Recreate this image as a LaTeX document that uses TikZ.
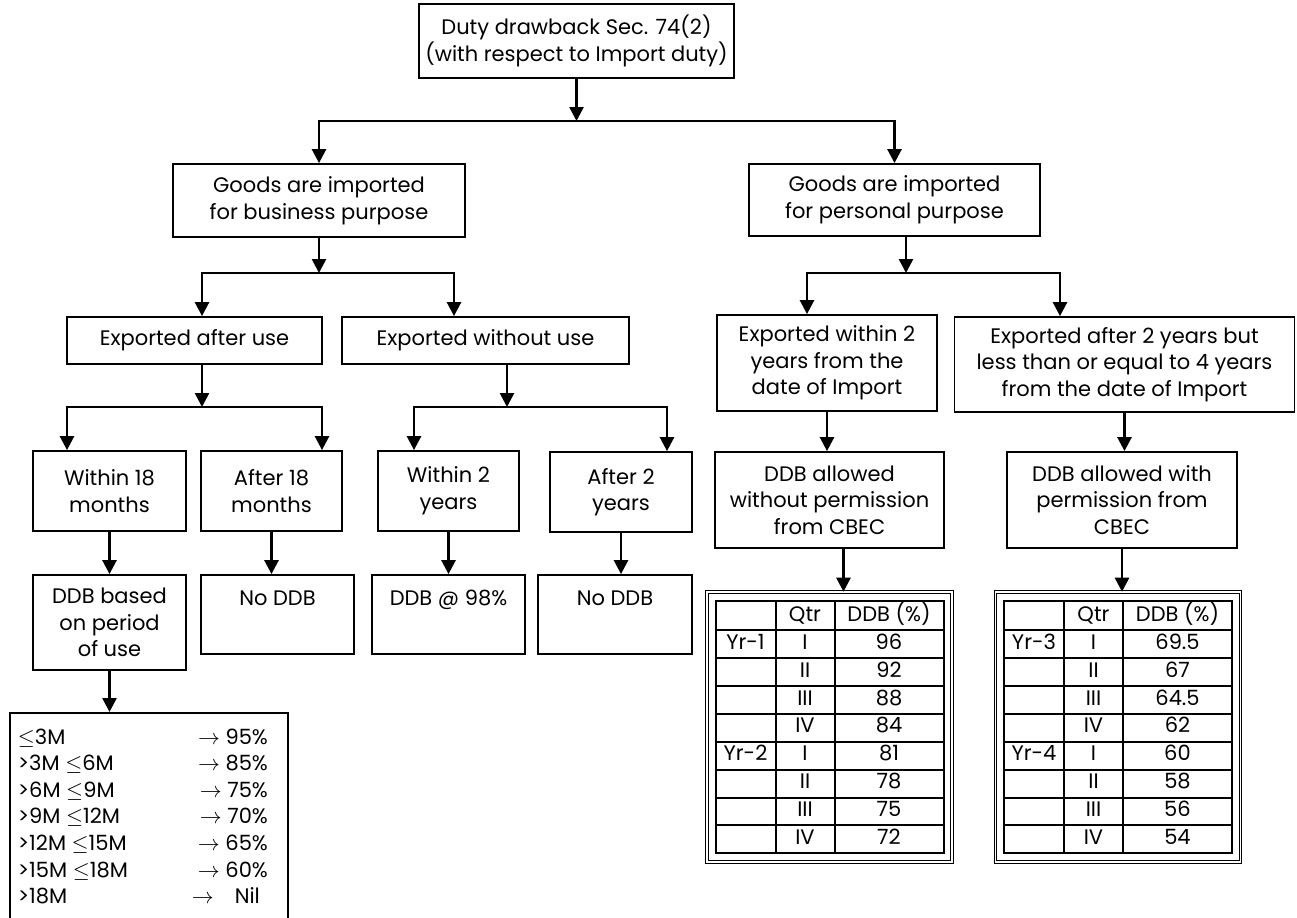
\documentclass[tikz,border=0pt]{standalone}
\usepackage{fontspec}
\setmainfont{Poppins}
\usepackage{array}
\usetikzlibrary{arrows.meta,positioning,calc}
\newcolumntype{C}[1]{>{\centering\arraybackslash}p{#1}}
\setlength{\tabcolsep}{0pt}
\setlength{\arrayrulewidth}{1pt}
\tikzset{
  stepbox/.style={
    draw,
    line width=0.9pt,
    align=center,
    inner sep=3pt
  },
  topbox/.style={stepbox, text height=12pt, text depth=21.5pt},
  listbox/.style={draw, line width=0.9pt, inner xsep=4pt, inner ysep=6.3pt},
  tablebox/.style={draw, double, double distance=0.8pt, line width=0.5pt, inner sep=3.75pt,
    font=\fontsize{10.5}{12.95}\selectfont},
  flow/.style={-{Triangle[width=7pt,length=7pt]}, line width=1.3pt}
}

\begin{document}
\begin{tikzpicture}[
  x=0.5pt, y=-0.5pt,
  every node/.style={font=\fontsize{10.5}{13.3}\selectfont}
]
\path[use as bounding box, fill=white] (0,0) rectangle (1297,917);

% root and first split
\node[stepbox, minimum width=156.5pt, minimum height=37pt] (duty) at (576.5,41) {Duty drawback Sec. 74(2)\\(with respect to Import duty)};
\node[stepbox, minimum width=146pt, minimum height=36.5pt] (business) at (319,200.5) {Goods are imported\\for business purpose};
\node[stepbox, minimum width=145.5pt, minimum height=36pt] (personal) at (894.5,200) {Goods are imported\\for personal purpose};

% business side
\node[stepbox, minimum width=127.5pt, minimum height=23.5pt] (afteruse) at (194.5,340.5) {Exported after use};
\node[stepbox, minimum width=143.5pt, minimum height=23.5pt] (withoutuse) at (485.5,340.5) {Exported without use};
\node[stepbox, minimum width=76.5pt, minimum height=40pt] (within18) at (109.5,491) {Within 18\\months};
\node[stepbox, minimum width=70.5pt, minimum height=40pt] (after18) at (271.5,491) {After 18\\months};
\node[stepbox, minimum width=70.5pt, minimum height=40pt] (within2y) at (448.5,491) {Within 2\\years};
\node[stepbox, minimum width=71pt, minimum height=40pt] (after2y) at (621,492) {After 2\\years};
\node[stepbox, minimum width=76.5pt, minimum height=47.5pt] (period) at (109.5,622.5) {DDB based\\on period\\of use};
\node[topbox, minimum width=76.5pt, minimum height=39.5pt] (noddbA) at (277.5,614.5) {No DDB};
\node[topbox, minimum width=76.5pt, minimum height=39.5pt] (ddb98) at (448.5,614.5) {DDB @ 98\%};
\node[topbox, minimum width=77pt, minimum height=39.5pt] (noddbB) at (615,614.5) {No DDB};
\node[listbox, anchor=north west] (cutoffs) at (9,712) {\begin{tabular*}{125pt}{@{}l@{\extracolsep{\fill}}r@{}}
$\le$3M & $\rightarrow$ 95\% \\
>3M $\le$6M & $\rightarrow$ 85\% \\
>6M $\le$9M & $\rightarrow$ 75\% \\
>9M $\le$12M & $\rightarrow$ 70\% \\
>12M $\le$15M & $\rightarrow$ 65\% \\
>15M $\le$18M & $\rightarrow$ 60\% \\
>18M & $\rightarrow$\quad Nil\hspace*{4pt} \\
\end{tabular*}\hspace*{6pt}};

% personal side
\node[stepbox, minimum width=110pt, minimum height=48pt] (within2) at (827,363) {Exported within 2\\years from the\\date of Import};
\node[stepbox, minimum width=170pt, minimum height=47.5pt] (upto4) at (1124.5,364.5) {Exported after 2 years but\\less than or equal to 4 years\\from the date of Import};
\node[stepbox, minimum width=114.5pt, minimum height=48pt] (nopermit) at (829.5,500) {DDB allowed\\without permission\\from CBEC};
\node[stepbox, minimum width=115pt, minimum height=48pt] (permit) at (1122,500) {DDB allowed with\\permission from\\CBEC};
\node[tablebox] (ratesA) at (829.5,727) {\begin{tabular}{|C{29pt}|C{28.5pt}|C{53.5pt}|}
\hline
 & Qtr & DDB (\%) \\ \hline
Yr-1 & I & 96 \\ \hline
 & II & 92 \\ \hline
 & III & 88 \\ \hline
 & IV & 84 \\ \hline
Yr-2 & I & 81 \\ \hline
 & II & 78 \\ \hline
 & III & 75 \\ \hline
 & IV & 72 \\ \hline
\end{tabular}};
\node[tablebox] (ratesB) at (1118,727) {\begin{tabular}{|C{29pt}|C{28.5pt}|C{53.5pt}|}
\hline
 & Qtr & DDB (\%) \\ \hline
Yr-3 & I & 69.5 \\ \hline
 & II & 67 \\ \hline
 & III & 64.5 \\ \hline
 & IV & 62 \\ \hline
Yr-4 & I & 60 \\ \hline
 & II & 58 \\ \hline
 & III & 56 \\ \hline
 & IV & 54 \\ \hline
\end{tabular}};

% forks
\coordinate (fork0) at (576.5,121);
\coordinate (fork1) at (319,273);
\coordinate (fork2) at (202,407);
\coordinate (fork3) at (507,407);
\coordinate (fork4) at (906,273);

\draw[flow] (duty) -- (fork0);
\draw[flow] (fork0) -| (business);
\draw[flow] (fork0) -| (personal);

\draw[flow] (business) -- (fork1);
\draw[flow] (fork1) -| ($(afteruse.north)+(7.5,0)$);
\draw[flow] (fork1) -| ($(withoutuse.north)+(-31.5,0)$);

\draw[flow] ($(afteruse.south)+(7.5,0)$) -- (fork2);
\draw[flow] (fork2) -| ($(within18.north)+(-42.5,0)$);
\draw[flow] (fork2) -| ($(after18.north)+(50.5,0)$);

\draw[flow] ($(withoutuse.south)+(21.5,0)$) -- (fork3);
\draw[flow] (fork3) -| ($(within2y.north)+(-34.5,0)$);
\draw[flow] (fork3) -| ($(after2y.north)+(46,0)$);

\draw[flow] ($(personal.south)+(11.5,0)$) -- (fork4);
\draw[flow] (fork4) -| ($(within2.north)+(-20,0)$);
\draw[flow] (fork4) -| ($(upto4.north)+(-64.5,0)$);

% straight drops
\draw[flow] (within18) -- (period);
\draw[flow] (period) -- (period |- cutoffs.north);
\draw[flow] (after18) -- (after18 |- noddbA.north);
\draw[flow] (within2y) -- (within2y |- ddb98.north);
\draw[flow] (after2y) -- (after2y |- noddbB.north);
\draw[flow] (within2) -- (within2 |- nopermit.north);
\draw[flow] (upto4) -- (upto4 |- permit.north);
\draw[flow] ($(nopermit.south)+(14,0)$) -- ($(nopermit.south |- ratesA.north)+(14,0)$);
\draw[flow] (permit) -- (permit |- ratesB.north);
\end{tikzpicture}
\end{document}
